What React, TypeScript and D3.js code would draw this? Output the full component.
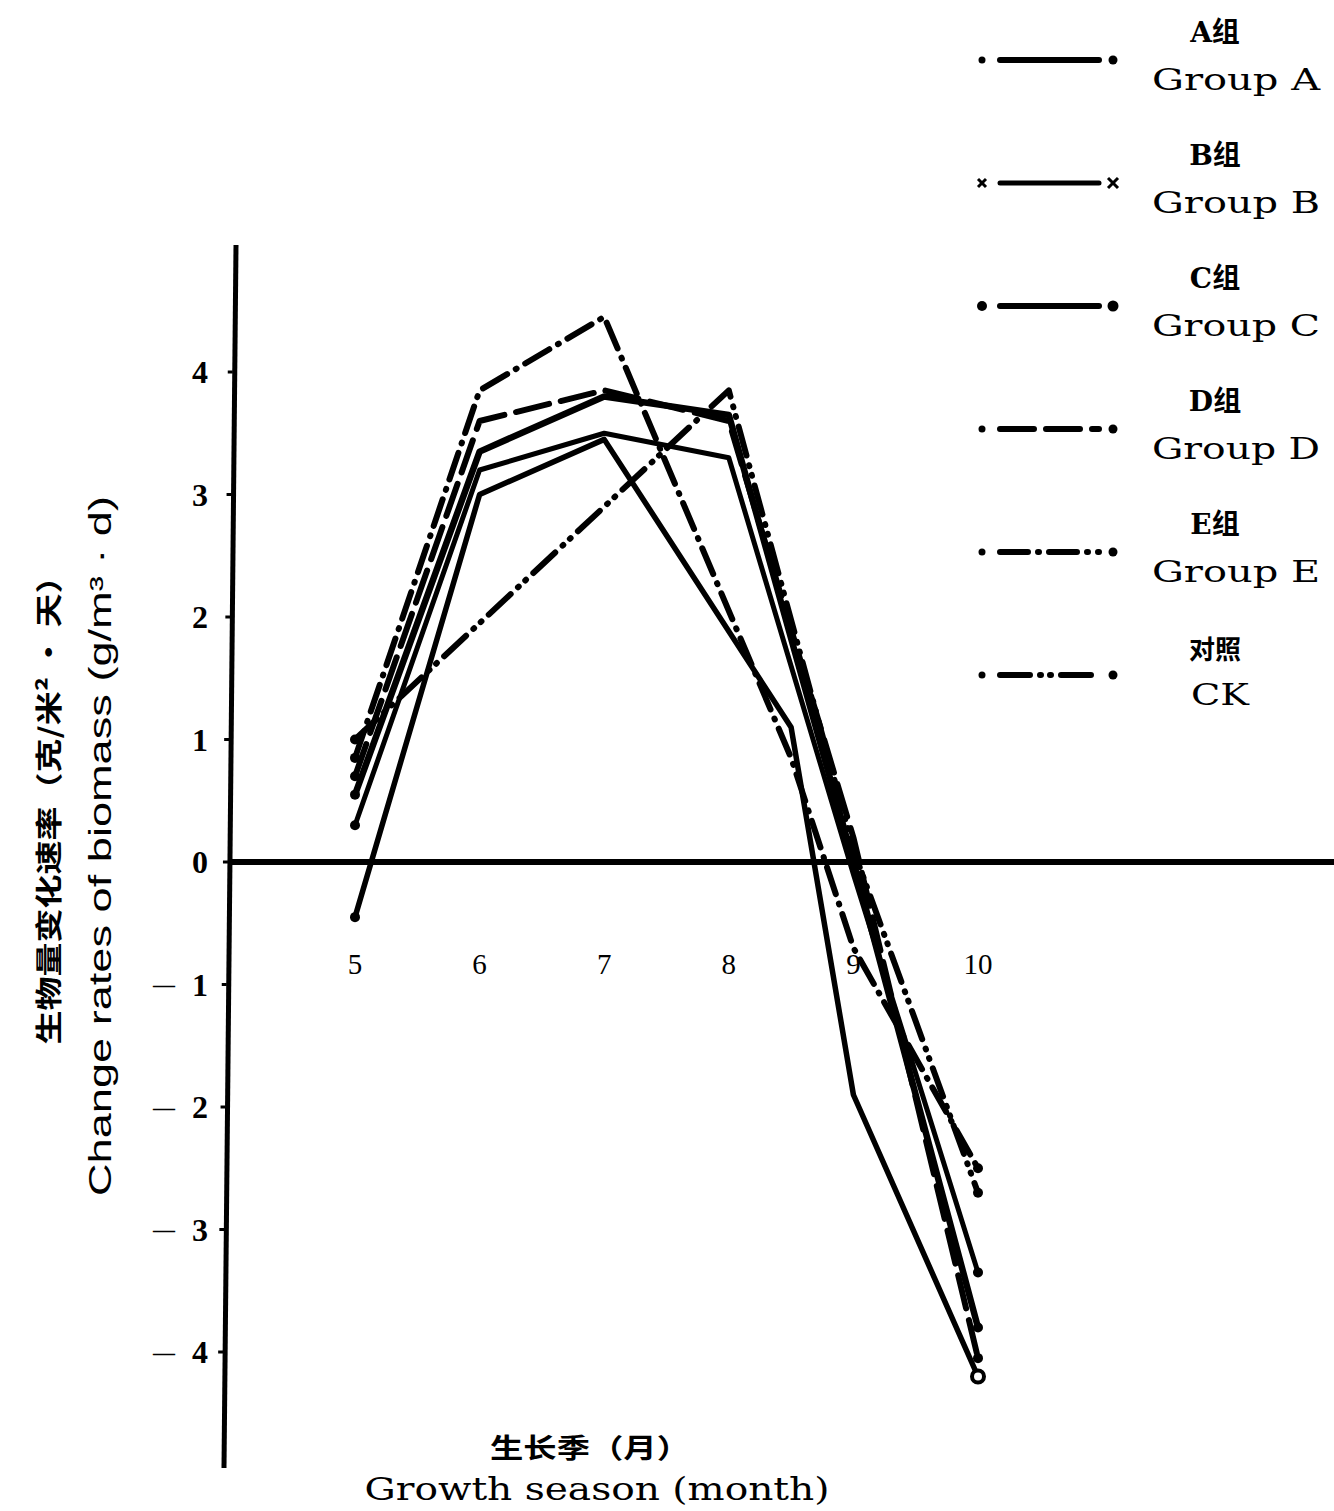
import React from "react";
import * as d3 from "d3";

// ---- data ----
const monthTicks = [5, 6, 7, 8, 9, 10];
const yTicks = [4, 3, 2, 1, 0, -1, -2, -3, -4];

const groupAMonths = [5, 6, 7, 8, 9, 10];
const groupAValues = [0.55, 3.35, 3.8, 3.65, 0.0, -3.8];
const groupBMonths = [5, 6, 7, 8, 9, 10];
const groupBValues = [0.3, 3.2, 3.5, 3.3, -0.1, -3.35];
const groupCMonths = [5, 6, 7, 8.5, 9, 10];
const groupCValues = [-0.45, 3.0, 3.45, 1.1, -1.9, -4.2];
const groupDMonths = [5, 6, 7, 8, 9, 10];
const groupDValues = [0.7, 3.6, 3.85, 3.6, 0.2, -4.05];
const groupEMonths = [5, 6, 7, 8.5, 9, 10];
const groupEValues = [0.85, 3.85, 4.45, 0.85, -0.7, -2.5];
const ckMonths = [5, 6, 7, 8, 9, 10];
const ckValues = [1.0, 1.95, 2.9, 3.85, 0.1, -2.7];

const seriesKeys = ["A", "B", "C", "D", "E", "CK"];
const seriesZh = ["A组", "B组", "C组", "D组", "E组", "对照"];
const seriesEn = ["Group A", "Group B", "Group C", "Group D", "Group E", "CK"];

const yTitleZh = "生物量变化速率（克/米² · 天）";
const yTitleEn = "Change rates of biomass (g/m³ · d)";
const xTitleZh = "生长季（月）";
const xTitleEn = "Growth season (month)";

// ---- styles ----
const styles: Record<string, { dash: string; width: number }> = {
  A: { dash: "", width: 6.5 },
  B: { dash: "", width: 5 },
  C: { dash: "", width: 5.5 },
  D: { dash: "34 12", width: 6 },
  E: { dash: "28 10 1 10", width: 6 },
  CK: { dash: "30 10 1 9 1 10", width: 6 },
};

const seriesData: Record<string, { m: number[]; v: number[] }> = {
  A: { m: groupAMonths, v: groupAValues },
  B: { m: groupBMonths, v: groupBValues },
  C: { m: groupCMonths, v: groupCValues },
  D: { m: groupDMonths, v: groupDValues },
  E: { m: groupEMonths, v: groupEValues },
  CK: { m: ckMonths, v: ckValues },
};

export default function App() {
  const W = 1334;
  const H = 1511;
  const x = d3.scaleLinear().domain([5, 10]).range([355, 978]);
  const y = d3.scaleLinear().domain([0, 4]).range([862, 372]);
  const line = d3
    .line<[number, number]>()
    .x((d) => x(d[0]))
    .y((d) => y(d[1]));

  const serif = "'DejaVu Serif', 'Liberation Serif', serif";
  const times = "'Liberation Serif', 'DejaVu Serif', serif";
  const cjk = "'Noto Sans CJK SC', sans-serif";

  const legendX1 = 982;
  const legendX2 = 1113;
  const legendY0 = 60;
  const legendStep = 123;

  return (
    <svg
      width={W}
      height={H}
      viewBox={`0 0 ${W} ${H}`}
      style={{ position: "absolute", left: 0, top: 0, background: "#fff" }}
    >
      <rect x={0} y={0} width={W} height={H} fill="#fff" />

      {/* y axis */}
      <line x1={236} y1={245} x2={224} y2={1468} stroke="#000" strokeWidth={5} />
      {yTicks.map((t) => (
        <line
          key={"yt" + t}
          x1={234 - (y(t) - 245) * (12 / 1223)}
          x2={229 - (y(t) - 245) * (12 / 1223)}
          y1={y(t)}
          y2={y(t)}
          stroke="#000"
          strokeWidth={3}
        />
      ))}
      {/* zero line */}
      <line x1={230} y1={y(0)} x2={W} y2={y(0)} stroke="#000" strokeWidth={6} />

      {/* y tick labels */}
      {yTicks.map((t) => (
        <g key={"yl" + t}>
          <text
            x={208}
            y={y(t)}
            textAnchor="end"
            dominantBaseline="central"
            fontFamily={times}
            fontWeight={700}
            fontSize={32}
          >
            {`${Math.abs(t)}`}
          </text>
          {t < 0 ? (
            <text
              x={164}
              y={y(t)}
              textAnchor="middle"
              dominantBaseline="central"
              fontFamily={times}
              fontWeight={700}
              fontSize={22}
            >
              —
            </text>
          ) : null}
        </g>
      ))}

      {/* x tick labels */}
      {monthTicks.map((m) => (
        <text
          key={"xl" + m}
          x={x(m)}
          y={974}
          textAnchor="middle"
          fontFamily={times}
          fontSize={29}
        >
          {m}
        </text>
      ))}

      {/* series lines */}
      {seriesKeys.map((k) => {
        const d = seriesData[k];
        const pts = d.m.map((m, i) => [m, d.v[i]] as [number, number]);
        return (
          <g key={"s" + k}>
            <path
              d={line(pts) || ""}
              fill="none"
              stroke="#000"
              strokeWidth={styles[k].width}
              strokeDasharray={styles[k].dash || undefined}
              strokeLinecap="round"
              strokeLinejoin="round"
            />
            <circle cx={x(pts[0][0])} cy={y(pts[0][1])} r={5} fill="#000" />
            {k === "C" ? (
              <circle
                cx={x(pts[pts.length - 1][0])}
                cy={y(pts[pts.length - 1][1])}
                r={6}
                fill="#fff"
                stroke="#000"
                strokeWidth={4}
              />
            ) : (
              <circle
                cx={x(pts[pts.length - 1][0])}
                cy={y(pts[pts.length - 1][1])}
                r={5}
                fill="#000"
              />
            )}
          </g>
        );
      })}

      {/* legend */}
      {seriesKeys.map((k, i) => {
        const ly = legendY0 + i * legendStep;
        const st = styles[k];
        return (
          <g key={"lg" + k}>
            <line
              x1={legendX1 + 18}
              x2={legendX2 - 14}
              y1={ly}
              y2={ly}
              stroke="#000"
              strokeWidth={k === "B" ? 5 : 6}
              strokeDasharray={st.dash || undefined}
              strokeLinecap="round"
            />
            {k === "B" ? (
              <g stroke="#000" strokeWidth={3}>
                <line x1={legendX1 - 4} x2={legendX1 + 4} y1={ly - 4} y2={ly + 4} />
                <line x1={legendX1 - 4} x2={legendX1 + 4} y1={ly + 4} y2={ly - 4} />
                <line x1={legendX2 - 5} x2={legendX2 + 5} y1={ly - 5} y2={ly + 5} />
                <line x1={legendX2 - 5} x2={legendX2 + 5} y1={ly + 5} y2={ly - 5} />
              </g>
            ) : (
              <g fill="#000">
                <circle cx={legendX1} cy={ly} r={k === "C" ? 5 : 3.5} />
                <circle cx={legendX2} cy={ly} r={k === "C" ? 5.5 : 4.5} />
              </g>
            )}
            <text
              x={1215}
              y={ly - 28}
              textAnchor="middle"
              dominantBaseline="central"
              fontFamily={k === "CK" ? cjk : `${serif}, ${cjk}`}
              fontWeight={700}
              fontSize={k === "CK" ? 26 : 28}
            >
              {seriesZh[i]}
            </text>
            <text
              x={k === "CK" ? 1220 : 1236}
              y={ly + 30}
              textAnchor="middle"
              fontFamily={serif}
              fontSize={30}
              textLength={k === "CK" ? 58 : 168}
              lengthAdjust="spacingAndGlyphs"
            >
              {seriesEn[i]}
            </text>
          </g>
        );
      })}

      {/* y axis titles */}
      <text
        transform="translate(47,802) rotate(-90)"
        textAnchor="middle"
        dominantBaseline="central"
        fontFamily={cjk}
        fontWeight={700}
        fontSize={27}
        textLength={485}
        lengthAdjust="spacingAndGlyphs"
      >
        {yTitleZh}
      </text>
      <text
        transform="translate(100,846) rotate(-90)"
        textAnchor="middle"
        dominantBaseline="central"
        fontFamily="'Liberation Sans', Arial, sans-serif"
        fontSize={31}
        textLength={700}
        lengthAdjust="spacingAndGlyphs"
      >
        {yTitleEn}
      </text>

      {/* x axis titles */}
      <text
        x={590}
        y={1446}
        textAnchor="middle"
        dominantBaseline="central"
        fontFamily={cjk}
        fontWeight={700}
        fontSize={27}
        textLength={200}
        lengthAdjust="spacingAndGlyphs"
      >
        {xTitleZh}
      </text>
      <text
        x={597}
        y={1500}
        textAnchor="middle"
        fontFamily={serif}
        fontSize={31}
        textLength={465}
        lengthAdjust="spacingAndGlyphs"
      >
        {xTitleEn}
      </text>
    </svg>
  );
}
